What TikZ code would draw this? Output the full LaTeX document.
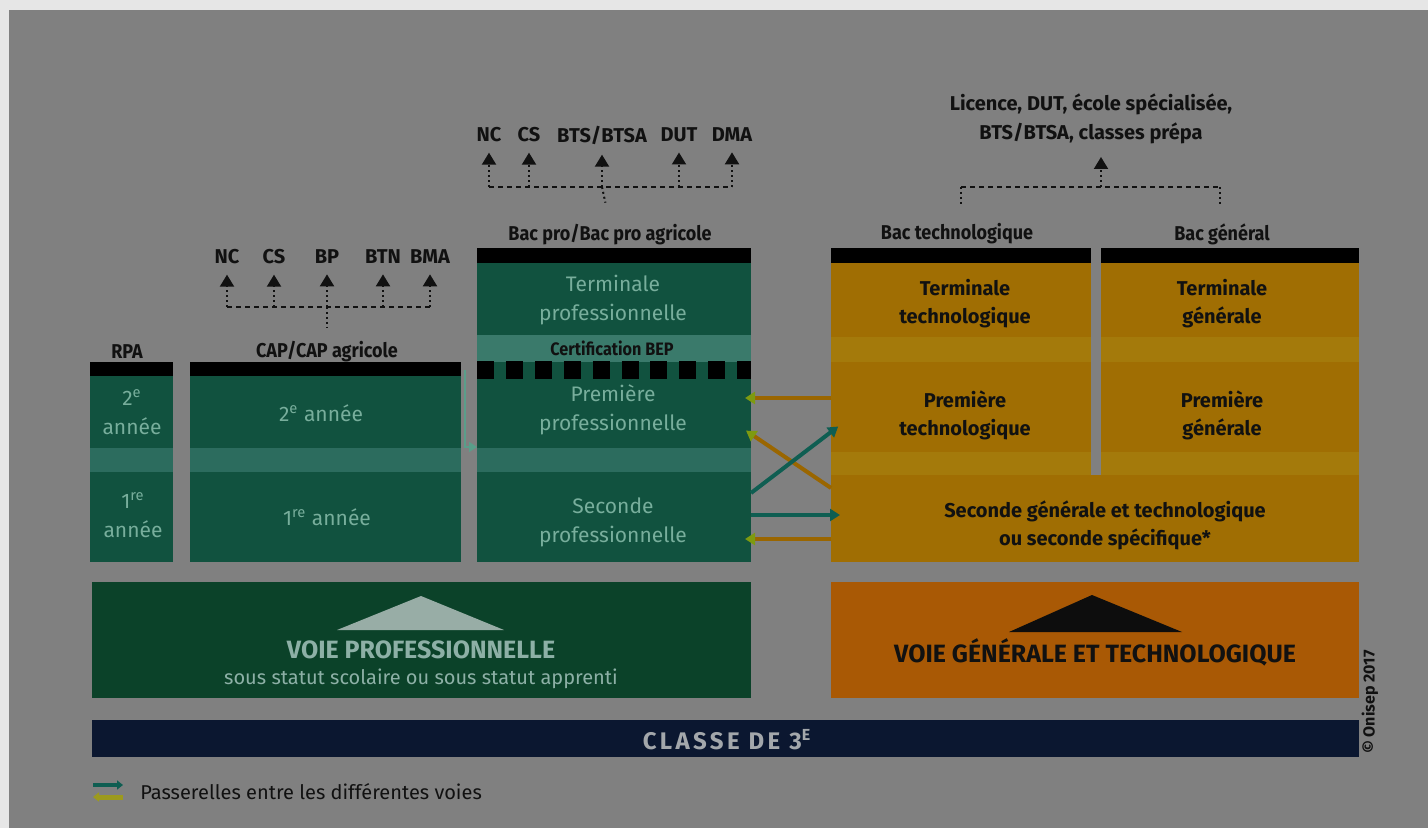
\documentclass[tikz,border=0pt]{standalone}
\usepackage{fontspec}
\setmainfont{Fira Sans}
\newfontfamily\condfont[FakeStretch=0.9]{Fira Sans}
\usetikzlibrary{arrows.meta}
\definecolor{cOuter}{HTML}{E6E6E6}
\definecolor{cBg}{HTML}{808080}
\definecolor{cG}{HTML}{11523F}
\definecolor{cGBand}{HTML}{2C6C5E}
\definecolor{cBep}{HTML}{3A7A6B}
\definecolor{cGT}{HTML}{78AE9C}
\definecolor{cY}{HTML}{A06E03}
\definecolor{cYBand}{HTML}{A47A0B}
\definecolor{cOr}{HTML}{A95905}
\definecolor{cVP}{HTML}{0B4229}
\definecolor{cVPT}{HTML}{8DB0A6}
\definecolor{cTri}{HTML}{98ADA6}
\definecolor{cNavy}{HTML}{0B1730}
\definecolor{cClasse}{HTML}{A3A7AB}
\definecolor{cTeal}{HTML}{0F5E52}
\definecolor{cOrA}{HTML}{9A6600}
\definecolor{cTip}{HTML}{7E9A10}
\definecolor{cInk}{HTML}{111111}
\definecolor{cCapC}{HTML}{5A9E8A}
\definecolor{cLegY}{HTML}{9C9A1E}
\tikzset{
  blk/.style={inner sep=0pt, outer sep=0pt, anchor=north west, draw=none},
  lbl/.style={font=\fontsize{10}{12}\selectfont\bfseries, text=cInk, inner sep=0pt},
  ttl/.style={font=\condfont\fontsize{10}{12}\selectfont\bfseries, text=cInk, inner sep=0pt},
  gtxt/.style={font=\fontsize{10.5}{14.5}\selectfont, text=cGT, align=center, inner sep=0pt},
  ytxt/.style={font=\fontsize{10}{14}\selectfont\bfseries, text=cInk, align=center, inner sep=0pt},
  dashline/.style={draw=cInk, line width=1pt, dash pattern=on 2.5pt off 2pt},
  dotline/.style={draw=cInk, line width=1pt, dash pattern=on 1pt off 1.5pt},
  outarrow/.style={dotline, -{Triangle[length=6pt,width=7pt,fill=cInk]}},
  tealarrow/.style={draw=cTeal, line width=2pt, -{Triangle[length=5pt,width=6pt,fill=cTeal]}},
  orarrow/.style={draw=cOrA, line width=2pt, -{Triangle[length=5pt,width=6pt,fill=cTip,color=cTip]}},
}
\begin{document}
\begin{tikzpicture}[x=0.5pt,y=-0.5pt]
\useasboundingbox (0,0) rectangle (1428,828);
\fill[cOuter] (0,0) rectangle (1428,828);
\fill[cBg] (9,10) rectangle (1428,828);

% ---------- RPA ----------
\node[blk, fill=black, minimum width=41.5pt, minimum height=7pt] (rpabar) at (90,362) {};
\node[blk, fill=cG, minimum width=41.5pt, minimum height=36pt] (rpa2) at (90,376) {};
\node[blk, fill=cGBand, minimum width=41.5pt, minimum height=12pt] (rpaband) at (90,448) {};
\node[blk, fill=cG, minimum width=41.5pt, minimum height=45pt] (rpa1) at (90,472) {};
\node[gtxt] (rpa2t) at (132,412) {2\textsuperscript{e}\\année};
\node[gtxt] (rpa1t) at (133,515) {1\textsuperscript{re}\\année};
\node[ttl] (rpat) at (127,352) {RPA};

% ---------- CAP ----------
\node[blk, fill=black, minimum width=135.5pt, minimum height=7pt] (capbar) at (190,362) {};
\node[blk, fill=cG, minimum width=135.5pt, minimum height=36pt] (cap2) at (190,376) {};
\node[blk, fill=cGBand, minimum width=135.5pt, minimum height=12pt] (capband) at (190,448) {};
\node[blk, fill=cG, minimum width=135.5pt, minimum height=45pt] (cap1) at (190,472) {};
\node[gtxt] (cap2t) at (321,413) {2\textsuperscript{e} année};
\node[gtxt] (cap1t) at (327,517) {1\textsuperscript{re} année};
\node[ttl] (capt) at (327,352) {CAP/CAP agricole};

% CAP outcomes
\node[lbl] (cnc) at (227,257) {NC};
\node[lbl] (ccs) at (274,257) {CS};
\node[lbl] (cbp) at (327,257) {BP};
\node[lbl] (cbtn) at (383,257) {BTN};
\node[lbl] (cbma) at (430,257) {BMA};
\coordinate (caph) at (327,307);
\draw[dashline] (cnc.south |- caph) -- (cbma.south |- caph);
\foreach \n in {cnc,ccs,cbp,cbtn,cbma}
  \draw[outarrow, shorten >=5pt] (\n.south |- caph) -- (\n.south);
\draw[dotline, shorten >=7pt] (caph) -- (capt.north);

% ---------- Bac pro ----------
\node[blk, fill=black, minimum width=137pt, minimum height=7.5pt] (probar) at (477,248) {};
\node[blk, fill=cG, minimum width=137pt, minimum height=36pt] (termpro) at (477,263) {};
\node[blk, fill=cBep, minimum width=137pt, minimum height=13.5pt] (bep) at (477,335) {};
\node[blk, fill=cG, minimum width=137pt, minimum height=43pt] (prempro) at (477,362) {};
\node[blk, fill=cGBand, minimum width=137pt, minimum height=12pt] (proband) at (477,448) {};
\node[blk, fill=cG, minimum width=137pt, minimum height=45pt] (secpro) at (477,472) {};
\draw[black, line width=8.5pt, dash pattern=on 8.5pt off 5.95pt] (prempro.north west) ++(0,8) coordinate (bepl) -- (bepl -| prempro.north east);
\node[gtxt] (termprot) at (613,300) {Terminale\\professionnelle};
\node[lbl, font=\condfont\fontsize{9}{10}\selectfont\bfseries] (bept) at (612,348) {Certification BEP};
\node[gtxt] (premprot) at (613,410) {Première\\professionnelle};
\node[gtxt] (secprot) at (613,522) {Seconde\\professionnelle};
\node[ttl] (prot) at (610,235) {Bac pro/Bac pro agricole};

% Bac pro outcomes
\node[lbl] (pnc) at (489,135) {NC};
\node[lbl] (pcs) at (529,135) {CS};
\node[lbl] (pbts) at (602,135) {BTS/BTSA};
\node[lbl] (pdut) at (679,135) {DUT};
\node[lbl] (pdma) at (732,135) {DMA};
\coordinate (proh) at (602,187);
\draw[dashline] (pnc.south |- proh) -- (pdma.south |- proh);
\foreach \n in {pnc,pcs,pbts,pdut,pdma}
  \draw[outarrow, shorten >=5pt] (\n.south |- proh) -- (\n.south);
\draw[dotline, shorten >=11pt] (proh) -- (prot.north);

% ---------- Voie générale et technologique ----------
\node[blk, fill=black, minimum width=130pt, minimum height=7.5pt] (techbar) at (831,248) {};
\node[blk, fill=black, minimum width=129pt, minimum height=7.5pt] (genbar) at (1101,248) {};
\node[blk, fill=cY, minimum width=130pt, minimum height=37pt] (termtech) at (831,263) {};
\node[blk, fill=cY, minimum width=129pt, minimum height=37pt] (termgen) at (1101,263) {};
\node[blk, fill=cYBand, minimum width=130pt, minimum height=12.5pt] (yband1a) at (831,337) {};
\node[blk, fill=cYBand, minimum width=129pt, minimum height=12.5pt] (yband1b) at (1101,337) {};
\node[blk, fill=cY, minimum width=130pt, minimum height=45pt] (premtech) at (831,362) {};
\node[blk, fill=cY, minimum width=129pt, minimum height=45pt] (premgen) at (1101,362) {};
\node[blk, fill=cYBand, minimum width=130pt, minimum height=11.5pt] (yband2a) at (831,452) {};
\node[blk, fill=cYBand, minimum width=129pt, minimum height=11.5pt] (yband2b) at (1101,452) {};
\node[blk, fill=cY, minimum width=264pt, minimum height=43.5pt] (secgt) at (831,475) {};
\node[ytxt] (termtecht) at (965,304) {Terminale\\technologique};
\node[ytxt] (termgent) at (1222,304) {Terminale\\générale};
\node[ytxt] (premtecht) at (965,415) {Première\\technologique};
\node[ytxt] (premgent) at (1222,415) {Première\\générale};
\node[ytxt] (secgtt) at (1105,525) {Seconde générale et technologique\\ou seconde spécifique*};
\node[ttl] (techt) at (957,234) {Bac technologique};
\node[ttl] (gent) at (1222,234) {Bac général};

% higher education
\node[lbl, font=\fontsize{10}{14.5}\selectfont\bfseries, align=center] (lic) at (1091,119) {Licence, DUT, école spécialisée,\\BTS/BTSA, classes prépa};
\coordinate (gth) at (1101,187);
\coordinate (licarr) at (1101,157);
\coordinate (gtl) at (961,187);
\coordinate (gtr) at (1220,187);
\draw[dashline] (gtl) -- (gtr);
\draw[outarrow] (gth) -- (licarr);
\draw[dotline, shorten >=9pt] (gtl) -- (gtl |- techt.north);
\draw[dotline, shorten >=9pt] (gtr) -- (gtr |- gent.north);

% ---------- passerelles ----------
\draw[draw=cCapC, line width=1.2pt, -{Triangle[length=4pt,width=5pt,fill=cCapC]}] (capbar.east) ++(4,1) |- (prempro.west |- 0,447);
\draw[orarrow, shorten >=-3pt] (premtech.west |- 0,398) -- (prempro.east |- 0,398);
\draw[orarrow, shorten >=-3pt] (secgt.west |- 0,488) -- (prempro.east |- 0,434);
\draw[tealarrow, shorten >=-4.5pt] (secpro.east |- 0,493) -- (premtech.west |- 0,432);
\draw[tealarrow, shorten >=-4.5pt] (secpro.east |- 0,515) -- (secgt.west |- 0,515);
\draw[orarrow, shorten >=-3pt] (secgt.west |- 0,539) -- (secpro.east |- 0,539);

% ---------- voies ----------
\node[blk, fill=cVP, minimum width=329.5pt, minimum height=58pt] (voiepro) at (92,582) {};
\node[blk, fill=cOr, minimum width=264pt, minimum height=58pt] (voiegt) at (831,582) {};
\fill[cTri] (337,630) -- (421,596) -- (504,630) -- cycle;
\fill[black!95] (1009,632) -- (1092,595) -- (1182,632) -- cycle;
\node[inner sep=0pt, font=\fontsize{12.5}{14}\selectfont\bfseries, text=cVPT] (vpt) at (421,650) {VOIE PROFESSIONNELLE};
\node[inner sep=0pt, font=\fontsize{10}{12}\selectfont, text=cVPT] (vps) at (421,679) {sous statut scolaire ou sous statut apprenti};
\node[inner sep=0pt, font=\fontsize{12.5}{14}\selectfont\bfseries, text=cInk] (vgt) at (1095,652) {VOIE GÉNÉRALE ET TECHNOLOGIQUE};

% ---------- classe de 3e ----------
\node[blk, fill=cNavy, minimum width=633.5pt, minimum height=18.5pt] (classe) at (92,720) {};
\node[inner sep=0pt, font=\fontsize{12}{14}\selectfont\bfseries\addfontfeature{LetterSpace=14}, text=cClasse] (classet) at (727,740) {CLASSE DE 3\textsuperscript{E}};

\node[rotate=90, inner sep=0pt, font=\fontsize{8}{9}\selectfont\bfseries, text=cInk] (copy) at (1370,702) {© Onisep 2017};

% ---------- legend ----------
\coordinate (lta) at (93,785);
\coordinate (ltb) at (123,785);
\coordinate (lya) at (123,797);
\coordinate (lyb) at (93,797);
\draw[draw=cTeal, line width=2pt, -{Triangle[length=3pt,width=4.5pt,fill=cTeal]}] (lta) -- (ltb);
\draw[draw=cLegY, line width=2.5pt, -{Triangle[length=3pt,width=4.5pt,fill=cLegY]}] (lya) -- (lyb);
\node[anchor=west, inner sep=0pt, font=\fontsize{10}{12}\selectfont, text=cInk] (legt) at (140,792) {Passerelles entre les différentes voies};
\end{tikzpicture}
\end{document}
